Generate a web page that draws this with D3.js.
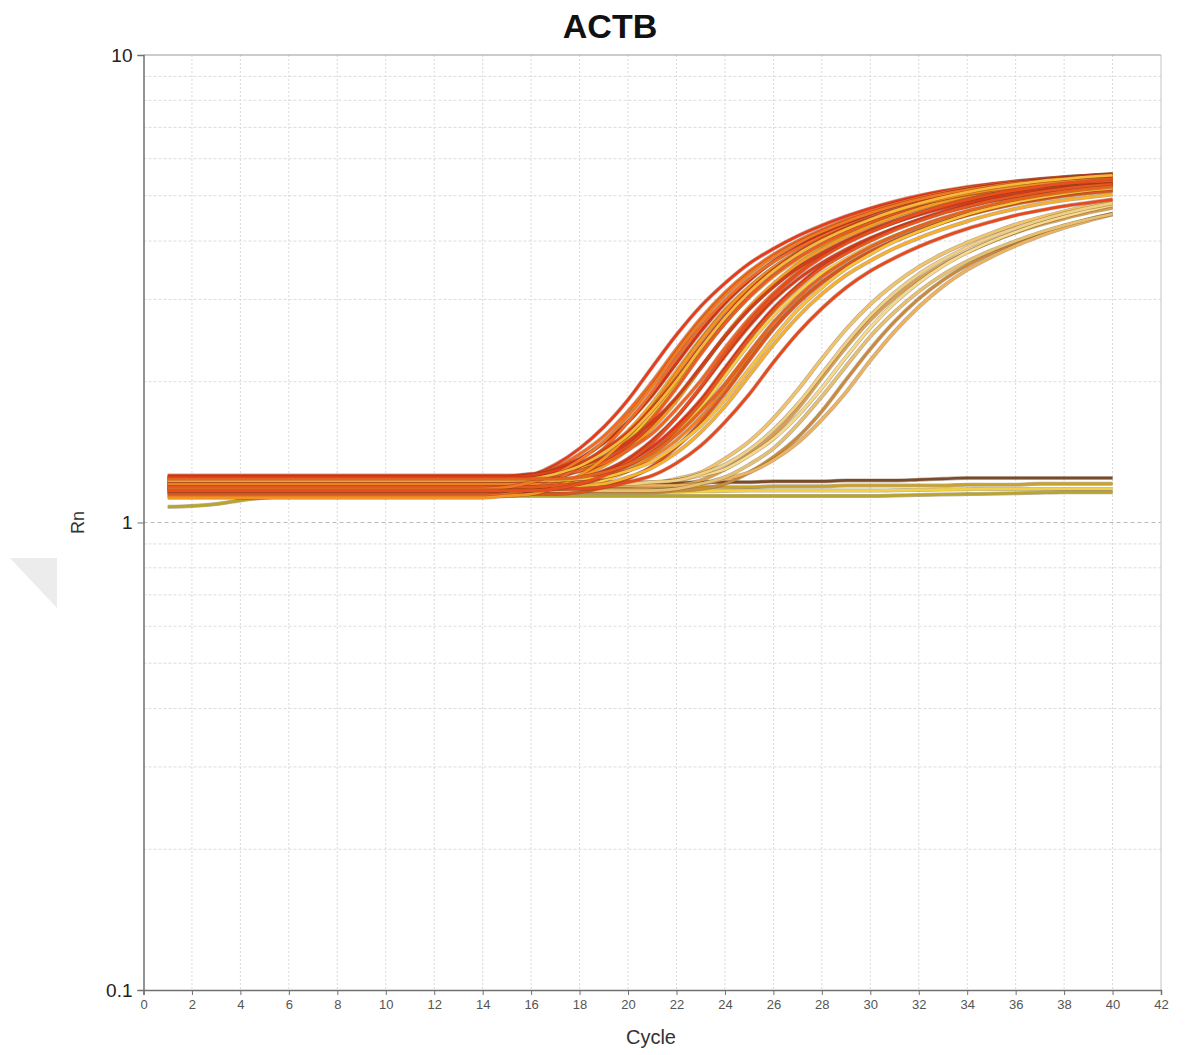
<!DOCTYPE html>
<html><head><meta charset="utf-8">
<script src="https://cdn.jsdelivr.net/npm/d3@7"></script>
<style>body{margin:0;background:#fff}svg{display:block}</style>
</head><body>
<svg id="chart" width="1190" height="1055"></svg>
<script>
const chartTitle = "ACTB";
const xLabel = "Cycle";
const yLabel = "Rn";
const cycles = [1,2,3,4,5,6,7,8,9,10,11,12,13,14,15,16,17,18,19,20,21,22,23,24,25,26,27,28,29,30,31,32,33,34,35,36,37,38,39,40];
const xTicks = [0,2,4,6,8,10,12,14,16,18,20,22,24,26,28,30,32,34,36,38,40,42];
const yTicks = [0.1,1,10];
const yTickLabels = ["0.1","1","10"];
const yMinorGrid = [0.2,0.3,0.4,0.5,0.6,0.7,0.8,0.9,2,3,4,5,6,7,8,9];

// main amplification group
const mainCurves = [
[1.21,1.21,1.20,1.20,1.20,1.20,1.20,1.20,1.20,1.20,1.20,1.20,1.20,1.21,1.22,1.26,1.33,1.44,1.60,1.83,2.15,2.52,2.90,3.25,3.58,3.85,4.10,4.32,4.52,4.70,4.86,5.00,5.12,5.22,5.30,5.37,5.43,5.48,5.52,5.55],
[1.22,1.22,1.22,1.22,1.22,1.22,1.22,1.22,1.22,1.22,1.22,1.22,1.22,1.22,1.23,1.26,1.31,1.40,1.53,1.73,2.00,2.35,2.73,3.10,3.44,3.74,4.00,4.23,4.44,4.63,4.80,4.95,5.08,5.19,5.28,5.36,5.42,5.48,5.52,5.56],
[1.18,1.18,1.18,1.18,1.18,1.18,1.18,1.18,1.18,1.18,1.18,1.18,1.18,1.18,1.19,1.20,1.24,1.31,1.42,1.57,1.80,2.11,2.47,2.85,3.19,3.51,3.78,4.02,4.24,4.43,4.61,4.77,4.90,5.02,5.12,5.20,5.27,5.33,5.37,5.41],
[1.24,1.24,1.24,1.24,1.24,1.24,1.24,1.24,1.24,1.24,1.24,1.24,1.24,1.24,1.25,1.26,1.30,1.37,1.48,1.64,1.87,2.19,2.56,2.94,3.29,3.62,3.89,4.14,4.36,4.56,4.74,4.90,5.04,5.16,5.26,5.34,5.41,5.47,5.52,5.56],
[1.21,1.21,1.21,1.21,1.21,1.21,1.21,1.21,1.21,1.21,1.21,1.21,1.21,1.21,1.21,1.22,1.25,1.30,1.38,1.51,1.70,1.97,2.31,2.67,3.03,3.36,3.65,3.91,4.13,4.33,4.52,4.68,4.83,4.95,5.06,5.15,5.23,5.28,5.34,5.38],
[1.16,1.16,1.16,1.16,1.16,1.16,1.16,1.16,1.16,1.16,1.16,1.16,1.16,1.16,1.16,1.17,1.20,1.25,1.34,1.47,1.67,1.94,2.29,2.67,3.04,3.38,3.68,3.94,4.17,4.38,4.57,4.74,4.89,5.02,5.13,5.22,5.30,5.36,5.42,5.46],
[1.23,1.23,1.23,1.23,1.23,1.23,1.23,1.23,1.23,1.23,1.23,1.23,1.23,1.23,1.23,1.24,1.25,1.29,1.35,1.46,1.61,1.84,2.14,2.50,2.86,3.20,3.51,3.77,4.01,4.23,4.42,4.59,4.74,4.88,4.99,5.09,5.17,5.23,5.29,5.34],
[1.19,1.19,1.19,1.19,1.19,1.19,1.19,1.19,1.19,1.19,1.19,1.19,1.19,1.19,1.19,1.20,1.21,1.25,1.32,1.43,1.59,1.82,2.14,2.51,2.89,3.24,3.57,3.84,4.09,4.31,4.51,4.69,4.85,4.99,5.11,5.21,5.29,5.36,5.42,5.47],
[1.20,1.20,1.20,1.20,1.20,1.20,1.20,1.20,1.20,1.20,1.20,1.20,1.20,1.20,1.20,1.20,1.21,1.24,1.29,1.37,1.50,1.68,1.94,2.27,2.63,2.99,3.31,3.59,3.84,4.06,4.26,4.44,4.60,4.74,4.87,4.97,5.06,5.13,5.19,5.25],
[1.25,1.25,1.25,1.25,1.25,1.25,1.25,1.25,1.25,1.25,1.25,1.25,1.25,1.25,1.25,1.25,1.26,1.29,1.34,1.43,1.55,1.75,2.01,2.36,2.73,3.09,3.43,3.72,3.97,4.20,4.41,4.59,4.76,4.91,5.03,5.14,5.23,5.31,5.37,5.43],
[1.17,1.17,1.17,1.17,1.17,1.17,1.17,1.17,1.17,1.17,1.17,1.17,1.17,1.17,1.17,1.17,1.18,1.19,1.23,1.29,1.40,1.55,1.76,2.06,2.41,2.77,3.10,3.41,3.66,3.90,4.10,4.29,4.46,4.61,4.74,4.86,4.95,5.02,5.09,5.15],
[1.22,1.22,1.22,1.22,1.22,1.22,1.22,1.22,1.22,1.22,1.22,1.22,1.22,1.22,1.22,1.22,1.23,1.24,1.28,1.35,1.45,1.61,1.83,2.14,2.50,2.87,3.21,3.53,3.79,4.03,4.25,4.44,4.62,4.77,4.91,5.02,5.12,5.20,5.27,5.32],
[1.21,1.21,1.21,1.21,1.21,1.21,1.21,1.21,1.21,1.21,1.21,1.21,1.21,1.21,1.21,1.21,1.21,1.22,1.25,1.29,1.38,1.50,1.68,1.94,2.26,2.61,2.96,3.27,3.55,3.80,4.01,4.20,4.38,4.54,4.68,4.80,4.90,4.99,5.06,5.12],
[1.15,1.15,1.15,1.15,1.15,1.15,1.15,1.15,1.15,1.15,1.15,1.15,1.15,1.15,1.15,1.15,1.15,1.16,1.19,1.24,1.32,1.45,1.64,1.89,2.22,2.59,2.94,3.26,3.54,3.79,4.01,4.21,4.39,4.55,4.69,4.82,4.92,5.01,5.08,5.14],
[1.19,1.19,1.19,1.19,1.19,1.19,1.19,1.19,1.19,1.19,1.19,1.19,1.19,1.19,1.19,1.19,1.19,1.20,1.21,1.25,1.31,1.41,1.56,1.77,2.06,2.40,2.75,3.08,3.38,3.63,3.86,4.06,4.24,4.41,4.56,4.69,4.80,4.89,4.96,5.03],
[1.18,1.18,1.18,1.18,1.18,1.18,1.18,1.18,1.18,1.18,1.18,1.18,1.18,1.18,1.18,1.18,1.18,1.18,1.19,1.22,1.26,1.34,1.46,1.64,1.88,2.20,2.54,2.87,3.18,3.45,3.68,3.89,4.08,4.25,4.40,4.54,4.65,4.75,4.83,4.91],
[1.14,1.14,1.14,1.14,1.14,1.14,1.14,1.14,1.14,1.14,1.14,1.14,1.14,1.14,1.15,1.18,1.23,1.32,1.44,1.64,1.90,2.25,2.62,2.98,3.32,3.61,3.86,4.09,4.30,4.48,4.65,4.80,4.92,5.03,5.12,5.20,5.26,5.31,5.35,5.39],
[1.26,1.26,1.26,1.26,1.26,1.26,1.26,1.26,1.26,1.26,1.26,1.26,1.26,1.26,1.26,1.27,1.28,1.32,1.38,1.49,1.64,1.85,2.15,2.50,2.86,3.19,3.50,3.75,3.99,4.19,4.38,4.55,4.70,4.83,4.95,5.04,5.11,5.18,5.24,5.28],
[1.13,1.13,1.13,1.13,1.13,1.13,1.13,1.13,1.13,1.13,1.13,1.13,1.13,1.13,1.14,1.15,1.19,1.26,1.37,1.53,1.76,2.08,2.45,2.83,3.18,3.51,3.78,4.03,4.25,4.45,4.63,4.79,4.93,5.05,5.15,5.23,5.30,5.36,5.41,5.45],
[1.19,1.19,1.19,1.19,1.19,1.19,1.19,1.19,1.19,1.19,1.19,1.19,1.19,1.19,1.19,1.19,1.20,1.21,1.25,1.32,1.42,1.58,1.80,2.11,2.47,2.84,3.18,3.50,3.76,4.00,4.22,4.41,4.59,4.74,4.88,4.99,5.09,5.17,5.24,5.29],
[1.23,1.23,1.23,1.23,1.23,1.23,1.23,1.23,1.23,1.23,1.23,1.23,1.23,1.23,1.23,1.23,1.23,1.24,1.25,1.29,1.35,1.46,1.61,1.83,2.13,2.48,2.85,3.18,3.49,3.75,3.99,4.19,4.38,4.56,4.71,4.84,4.95,5.05,5.13,5.19],
[1.25,1.25,1.25,1.25,1.25,1.25,1.25,1.25,1.25,1.25,1.25,1.25,1.25,1.25,1.25,1.26,1.29,1.34,1.43,1.56,1.76,2.03,2.38,2.76,3.13,3.47,3.77,4.03,4.26,4.47,4.66,4.83,4.98,5.11,5.22,5.31,5.39,5.45,5.51,5.55],
[1.18,1.18,1.18,1.18,1.18,1.18,1.18,1.18,1.18,1.18,1.18,1.18,1.18,1.18,1.19,1.22,1.27,1.36,1.49,1.69,1.96,2.31,2.69,3.06,3.40,3.70,3.96,4.19,4.40,4.59,4.76,4.91,5.04,5.15,5.24,5.32,5.38,5.44,5.48,5.52],
[1.17,1.17,1.17,1.17,1.17,1.17,1.17,1.17,1.17,1.17,1.17,1.17,1.17,1.17,1.17,1.17,1.18,1.21,1.26,1.35,1.48,1.68,1.95,2.30,2.68,3.05,3.39,3.69,3.95,4.18,4.39,4.58,4.75,4.90,5.03,5.14,5.23,5.31,5.37,5.43],
[1.23,1.23,1.23,1.23,1.23,1.23,1.23,1.23,1.23,1.23,1.23,1.23,1.23,1.23,1.23,1.24,1.27,1.32,1.41,1.54,1.74,2.01,2.36,2.74,3.11,3.45,3.75,4.01,4.24,4.45,4.64,4.81,4.96,5.09,5.20,5.29,5.37,5.43,5.49,5.53],
[1.24,1.24,1.24,1.24,1.24,1.24,1.24,1.24,1.24,1.24,1.24,1.24,1.24,1.24,1.24,1.24,1.24,1.25,1.28,1.33,1.41,1.54,1.73,1.98,2.31,2.68,3.03,3.35,3.63,3.88,4.10,4.30,4.48,4.64,4.78,4.91,5.01,5.10,5.17,5.23]
];
// late amplification group
const lateCurves = [
[1.20,1.20,1.20,1.20,1.20,1.20,1.20,1.20,1.20,1.20,1.20,1.20,1.20,1.20,1.20,1.20,1.20,1.20,1.20,1.20,1.21,1.24,1.28,1.37,1.49,1.67,1.92,2.24,2.59,2.93,3.24,3.52,3.76,3.97,4.16,4.34,4.49,4.63,4.75,4.85],
[1.18,1.18,1.18,1.18,1.18,1.18,1.18,1.18,1.18,1.18,1.18,1.18,1.18,1.18,1.18,1.18,1.18,1.18,1.18,1.18,1.19,1.20,1.23,1.30,1.40,1.54,1.75,2.04,2.37,2.71,3.03,3.32,3.57,3.79,3.99,4.17,4.33,4.47,4.60,4.71],
[1.22,1.22,1.22,1.22,1.22,1.22,1.22,1.22,1.22,1.22,1.22,1.22,1.22,1.22,1.22,1.22,1.22,1.22,1.22,1.22,1.22,1.23,1.26,1.30,1.39,1.51,1.69,1.94,2.26,2.61,2.95,3.26,3.54,3.78,3.99,4.18,4.36,4.51,4.65,4.77],
[1.16,1.16,1.16,1.16,1.16,1.16,1.16,1.16,1.16,1.16,1.16,1.16,1.16,1.16,1.16,1.16,1.16,1.16,1.16,1.16,1.16,1.17,1.18,1.21,1.28,1.38,1.52,1.73,2.02,2.35,2.69,3.01,3.30,3.55,3.77,3.97,4.15,4.31,4.45,4.58],
[1.20,1.20,1.20,1.20,1.20,1.20,1.20,1.20,1.20,1.20,1.20,1.20,1.20,1.20,1.20,1.20,1.20,1.20,1.20,1.20,1.20,1.20,1.21,1.24,1.28,1.36,1.48,1.66,1.90,2.22,2.56,2.89,3.20,3.47,3.70,3.91,4.10,4.27,4.42,4.56],
[1.17,1.17,1.17,1.17,1.17,1.17,1.17,1.17,1.17,1.17,1.17,1.17,1.17,1.17,1.17,1.17,1.17,1.17,1.17,1.17,1.17,1.18,1.21,1.25,1.33,1.44,1.62,1.86,2.16,2.50,2.82,3.12,3.39,3.62,3.82,4.00,4.17,4.32,4.45,4.57],
[1.21,1.21,1.21,1.21,1.21,1.21,1.21,1.21,1.21,1.21,1.21,1.21,1.21,1.21,1.21,1.21,1.21,1.21,1.21,1.21,1.22,1.23,1.27,1.33,1.43,1.58,1.79,2.08,2.42,2.77,3.10,3.40,3.65,3.88,4.08,4.26,4.43,4.58,4.71,4.82]
];
// non-amplifying wells
const flatCurves = [
[1.20,1.20,1.20,1.20,1.20,1.20,1.20,1.20,1.20,1.20,1.20,1.20,1.20,1.20,1.20,1.20,1.205,1.21,1.21,1.21,1.215,1.215,1.22,1.22,1.22,1.225,1.225,1.225,1.23,1.23,1.23,1.235,1.24,1.245,1.245,1.245,1.245,1.245,1.245,1.245],
[1.19,1.19,1.19,1.19,1.19,1.19,1.19,1.19,1.19,1.19,1.19,1.19,1.19,1.19,1.19,1.19,1.19,1.19,1.19,1.19,1.19,1.19,1.19,1.19,1.19,1.195,1.195,1.195,1.20,1.20,1.20,1.20,1.20,1.205,1.205,1.205,1.21,1.21,1.21,1.21],
[1.16,1.16,1.16,1.16,1.16,1.16,1.16,1.16,1.16,1.16,1.16,1.16,1.16,1.16,1.16,1.16,1.16,1.16,1.16,1.16,1.162,1.164,1.166,1.168,1.17,1.17,1.17,1.17,1.17,1.17,1.172,1.174,1.176,1.178,1.18,1.18,1.18,1.18,1.18,1.18],
[1.08,1.085,1.095,1.115,1.13,1.14,1.14,1.14,1.14,1.14,1.14,1.14,1.14,1.14,1.14,1.14,1.14,1.14,1.14,1.14,1.14,1.14,1.14,1.14,1.14,1.14,1.14,1.14,1.14,1.14,1.142,1.145,1.148,1.15,1.152,1.155,1.158,1.16,1.16,1.16]
];
const mainColors = ["#e63c1c","#f26a1f","#f5a623","#d8321a","#f7c531","#ef5a22","#e9491b","#f39c1e","#cf401e","#f26422","#fbd042","#e3351c","#f0801f","#dc541e","#f6b12a","#e8481b","#ef6a25","#d23c1b","#f49320","#e5581d","#f9c03a","#e0401a","#f07a22","#eb4e1c","#f8b83a","#e6621f"];
const lateColors = ["#f2c46a","#d8a050","#f6d98a","#c98a3e","#eeb25e","#e5c071","#f0cf84"];
const flatColors = ["#7a4b2a","#c9a227","#f2d23e","#b8a52a"];

const svg = d3.select("#chart");
const pLeft = 143.5, pRight = 1161, pTop = 55, pBottom = 990;
const x = d3.scaleLinear().domain([0, 42]).range([pLeft, pRight]);
const y = d3.scaleLog().domain([0.1, 10]).range([pBottom, pTop]);

// watermark triangle
svg.append("path").attr("d", "M10,558 L57,558 L57,608 Z").attr("fill", "#ececec");

// grid
const g = svg.append("g");
g.selectAll(".vg").data(xTicks.filter(d => d > 0 && d < 42)).enter().append("line")
  .attr("x1", d => x(d)).attr("x2", d => x(d)).attr("y1", pTop).attr("y2", pBottom)
  .attr("stroke", "#d9d9d9").attr("stroke-width", 1).attr("stroke-dasharray", "2,2");
g.selectAll(".hg").data(yMinorGrid).enter().append("line")
  .attr("x1", pLeft).attr("x2", pRight).attr("y1", d => y(d)).attr("y2", d => y(d))
  .attr("stroke", "#dcdcdc").attr("stroke-width", 1).attr("stroke-dasharray", "3,2");
g.append("line").attr("x1", pLeft).attr("x2", pRight).attr("y1", y(1)).attr("y2", y(1))
  .attr("stroke", "#bcbcbc").attr("stroke-width", 1).attr("stroke-dasharray", "4,3");

// borders
svg.append("line").attr("x1", pLeft).attr("x2", pRight).attr("y1", pTop).attr("y2", pTop).attr("stroke", "#9a9a9a");
svg.append("line").attr("x1", pRight).attr("x2", pRight).attr("y1", pTop).attr("y2", pBottom).attr("stroke", "#c4c4c4");

// curves
const line = d3.line().x((d, i) => x(cycles[i])).y(d => y(d)).curve(d3.curveMonotoneX);
const cg = svg.append("g");
function drawSet(data, colors, edge, edgeOp) {
  data.forEach((c, i) => {
    cg.append("path").attr("d", line(c)).attr("fill", "none")
      .attr("stroke", edge).attr("stroke-opacity", edgeOp).attr("stroke-width", 4);
    cg.append("path").attr("d", line(c)).attr("fill", "none")
      .attr("stroke", colors[i % colors.length]).attr("stroke-width", 2.7);
  });
}
drawSet(flatCurves, flatColors, "#6b5030", 0.45);
drawSet(lateCurves, lateColors, "#7a5a30", 0.5);
drawSet(mainCurves, mainColors, "#7a3a1e", 0.45);

// axes
const xAxis = d3.axisBottom(x).tickValues(xTicks).tickSize(5).tickPadding(5).tickFormat(d3.format("d"));
const xa = svg.append("g").attr("transform", `translate(0,${pBottom})`).call(xAxis);
xa.select(".domain").attr("stroke", "#707070").attr("stroke-width", 1.5);
xa.selectAll(".tick line").attr("stroke", "#707070");
xa.selectAll("text").attr("font-family", "Liberation Sans, Arial, sans-serif").attr("font-size", 13).attr("fill", "#555");

const yAxis = d3.axisLeft(y).tickValues(yTicks).tickSize(6).tickPadding(5).tickFormat((d, i) => yTickLabels[i]);
const ya = svg.append("g").attr("transform", `translate(${pLeft},0)`).call(yAxis);
ya.select(".domain").attr("stroke", "#707070").attr("stroke-width", 1.5);
ya.selectAll(".tick line").attr("stroke", "#707070");
ya.selectAll("text").attr("font-family", "Liberation Sans, Arial, sans-serif").attr("font-size", 19).attr("fill", "#222");

// labels
svg.append("text").attr("x", 610).attr("y", 38).attr("text-anchor", "middle")
  .attr("font-family", "Liberation Sans, Arial, sans-serif").attr("font-weight", "bold")
  .attr("font-size", 34).attr("fill", "#111").text(chartTitle);
svg.append("text").attr("x", 651).attr("y", 1044).attr("text-anchor", "middle")
  .attr("font-family", "Liberation Sans, Arial, sans-serif").attr("font-size", 20).attr("fill", "#333").text(xLabel);
svg.append("text").attr("transform", `translate(84,${y(1)}) rotate(-90)`).attr("text-anchor", "middle")
  .attr("font-family", "Liberation Sans, Arial, sans-serif").attr("font-size", 18).attr("fill", "#333").text(yLabel);
</script>
</body></html>
